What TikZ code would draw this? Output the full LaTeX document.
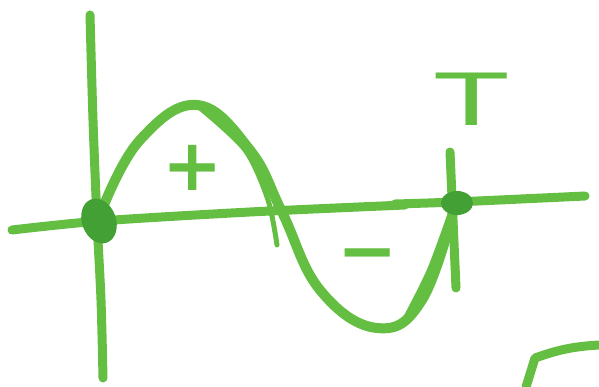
\documentclass[tikz,border=0pt]{standalone}
\usepackage{fontspec}
\usepackage{graphicx}
\setmainfont{DejaVu Sans}
\definecolor{marker}{RGB}{100,190,66}
\definecolor{markerdark}{RGB}{66,160,52}
\begin{document}
\begin{tikzpicture}[x=1pt, y=-1pt,
        pen/.style={draw=marker, line width=9pt, line cap=round, line join=round},
        blob/.style={fill=markerdark},
        sign/.style={text=marker, font=\fontsize{72}{80}\selectfont\bfseries, inner sep=0pt}
    ]
    \useasboundingbox (0,0) rectangle (599,387);
    % axes
    \draw[pen] plot[smooth] coordinates {(90,15) (93,120) (97,220) (101,300) (103,378)};
    \draw[pen] plot[smooth] coordinates {(12,230) (100,221) (250,212) (405,205)};
    \draw[pen] plot[smooth] coordinates {(395,204) (455,202) (585,196)};
    % period tick
    \draw[pen] (450,152) -- (453,220) -- (456,288);
    % sine curve
    \draw[pen, line width=10pt] plot[smooth, tension=0.7] coordinates {(104,205) (140,140) (197,105)
        (250,150) (282,212) (320,290) (377,328) (422,300) (455,205)};
    \draw[pen, line width=5pt] plot[smooth] coordinates {(200,108) (245,150) (268,200) (277,245)};
    \draw[pen, line width=6pt] plot[smooth] coordinates {(405,320) (430,270) (452,210)};
    % dots
    \fill[blob, rotate around={20:(99,221)}] (99,221) ellipse (17pt and 23pt);
    \fill[blob] (457,203) ellipse (16pt and 12pt);
    % labels
    \node[sign] (plus) at (193,168) {+};
    \node[sign] (minus) at (368,262) {−};
    \node[sign, font=\fontsize{72}{80}\selectfont] (period) at (472,99) {\scalebox{1.6}[1]{T}};
    % corner stroke
    \draw[pen] (526,387) -- (535,358) to[bend left=8] (599,345);
\end{tikzpicture}
\end{document}
